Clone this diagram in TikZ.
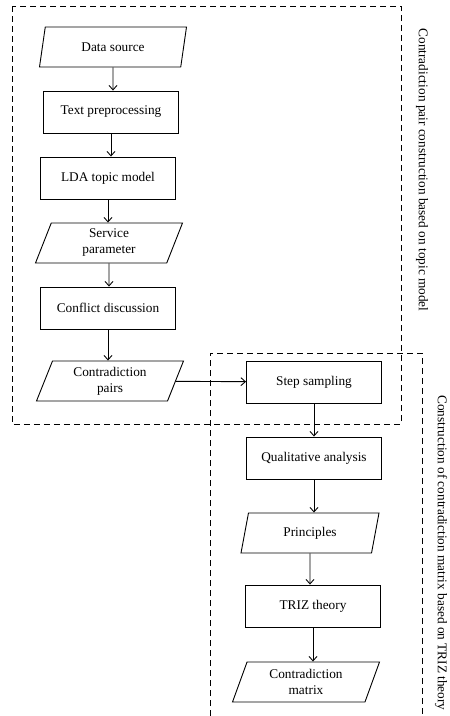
\documentclass[tikz,border=0pt]{standalone}
\usepackage{fontspec}
\setmainfont{Liberation Serif}
\usetikzlibrary{shapes.geometric}
\usetikzlibrary{arrows.meta}

\tikzset{
  proc/.style={draw, rectangle, minimum width=135pt, minimum height=42pt, inner sep=2pt},
  io/.style={draw, trapezium, trapezium left angle=62, trapezium right angle=118,
    trapezium stretches body=true, minimum width=147pt, minimum height=40pt,
    align=center, inner sep=1pt},
  grp/.style={draw, dash pattern=on 6pt off 4pt},
}

\begin{document}
\begin{tikzpicture}[x=1pt, y=-1pt, font=\fontsize{13.3}{16}\selectfont,
  line width=0.9pt, >={Straight Barb[length=4.5pt,width=8pt]}]

\useasboundingbox (0,0) rectangle (450,716);

% 虚线框
\draw[grp] (12,6) rectangle (401,424);
\draw[grp] (210,716) -- (210,353) -- (422,353) -- (422,716);

% 左列
\node[io]   (src)  at (113,47)  {Data source};
\node[proc] (pre)  at (111,112) {Text preprocessing};
\node[proc] (lda)  at (108,178) {LDA topic model};
\node[io]   (svc)  at (109,243) {Service\\parameter};
\node[proc] (cfl)  at (108,308) {Conflict discussion};
\node[io]   (pair) at (110,381) {Contradiction\\pairs};

% 右列
\node[proc] (samp) at (314,382) {Step sampling};
\node[proc] (qual) at (314,458) {Qualitative analysis};
\node[io, minimum width=138pt] (prin) at (310,533) {Principles};
\node[proc] (triz) at (313,606) {TRIZ theory};
\node[io]   (mat)  at (306,682) {Contradiction\\matrix};

\foreach \a/\b in {src/pre, pre/lda, lda/svc, svc/cfl, cfl/pair,
                   samp/qual, qual/prin, prin/triz, triz/mat}
  \draw[->] (\a) -- (\a |- \b.north);

\draw[->] (pair) -- (samp);

\node[rotate=-90] (lab1) at (422,170) {Contradiction pair construction based on topic model};
\node[rotate=-90] (lab2) at (441,553) {Construction of contradiction matrix based on TRIZ theory};

\end{tikzpicture}
\end{document}
